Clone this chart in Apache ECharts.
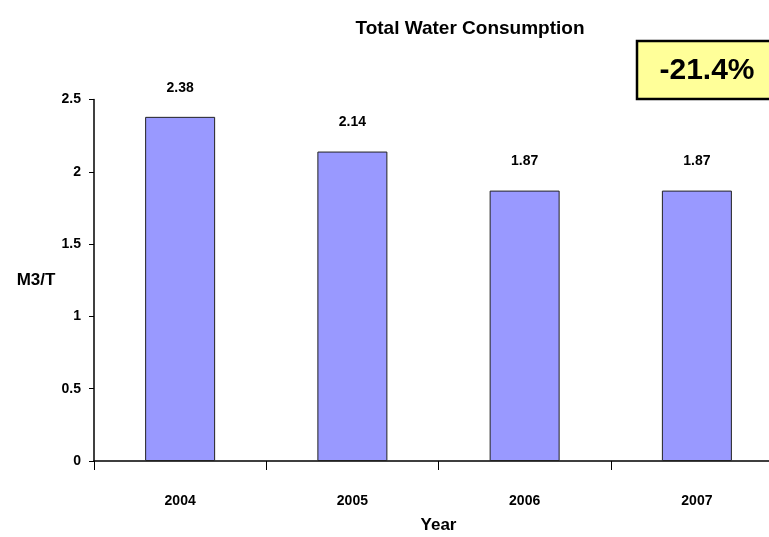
<!DOCTYPE html>
<html>
<head>
<meta charset="utf-8">
<script src="https://cdn.jsdelivr.net/npm/echarts@6/dist/echarts.min.js"></script>
<style>html,body{margin:0;padding:0;background:#fff}#c{width:769px;height:537px}</style>
</head>
<body>
<div id="c"></div>
<script>
const categories = ['2004', '2005', '2006', '2007'];
const consumption = [2.38, 2.14, 1.87, 1.87];
const changeLabel = '-21.4%';
const titleText = 'Total Water Consumption';

const FONT = "'Liberation Sans', Arial, sans-serif";
const chart = echarts.init(document.getElementById('c'), null, {renderer: 'canvas'});
chart.setOption({
  animation: false,
  backgroundColor: '#ffffff',
  title: {
    text: titleText,
    left: 465, top: 14, textAlign: 'center',
    textStyle: {fontFamily: FONT, fontWeight: 'bold', fontSize: 19, color: '#000'}
  },
  grid: {left: 94, right: -14, top: 99.5, bottom: 76, containLabel: false, outerBoundsMode: 'none'},
  xAxis: {
    type: 'category',
    data: categories,
    name: 'Year',
    nameLocation: 'middle',
    nameGap: 56,
    nameTextStyle: {fontFamily: FONT, fontWeight: 'bold', fontSize: 17, color: '#000'},
    axisLine: {lineStyle: {color: '#000', width: 1.5}},
    axisTick: {show: true, alignWithLabel: false, length: 9, lineStyle: {color: '#000', width: 1}},
    axisLabel: {margin: 33, fontFamily: FONT, fontWeight: 'bold', fontSize: 14, color: '#000'},
    splitLine: {show: false}
  },
  yAxis: {
    type: 'value',
    min: 0, max: 2.5, interval: 0.5,
    name: 'M3/T',
    nameLocation: 'middle',
    nameRotate: 0,
    nameGap: 58,
    nameTextStyle: {fontFamily: FONT, fontWeight: 'bold', fontSize: 17, color: '#000', align: 'center', verticalAlign: 'middle'},
    axisLine: {show: true, lineStyle: {color: '#000', width: 1.5}},
    axisTick: {show: true, length: 5, lineStyle: {color: '#000', width: 1}},
    axisLabel: {margin: 13, fontFamily: FONT, fontWeight: 'bold', fontSize: 14, color: '#000'},
    splitLine: {show: false}
  },
  series: [{
    type: 'bar',
    data: consumption,
    barWidth: 70,
    itemStyle: {color: '#9999FF', borderColor: '#222', borderWidth: 1},
    label: {
      show: true, position: 'top', distance: 22,
      fontFamily: FONT, fontWeight: 'bold', fontSize: 14, color: '#000',
      formatter: p => p.value.toFixed(2)
    }
  }],
  graphic: [{
    type: 'group',
    children: [
      {type: 'rect', shape: {x: 637, y: 41, width: 140, height: 58},
       style: {fill: '#FFFF99', stroke: '#000', lineWidth: 2.5}},
      {type: 'text', x: 707, y: 71,
       style: {text: changeLabel, fontFamily: FONT, fontWeight: 'bold', fontSize: 30,
               fill: '#000', align: 'center', verticalAlign: 'middle'}}
    ]
  }]
});
</script>
</body>
</html>
